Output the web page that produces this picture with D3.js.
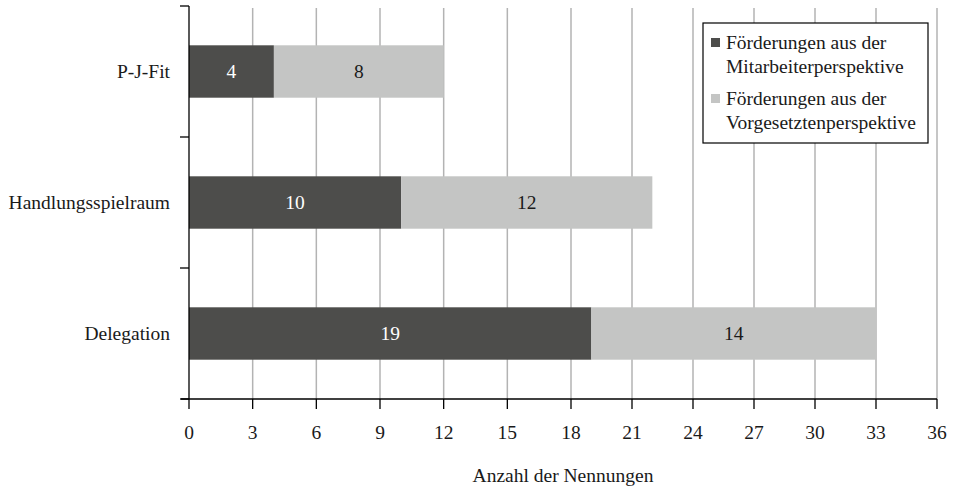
<!DOCTYPE html>
<html>
<head>
<meta charset="utf-8">
<script src="https://cdn.jsdelivr.net/npm/d3@7"></script>
<style>
  html, body { margin: 0; padding: 0; background: #fff; }
  svg { display: block; font-family: "Liberation Serif", "Times New Roman", serif; }
</style>
</head>
<body>
<svg id="chart" width="954" height="489"></svg>
<script>
// Kategorien (von oben nach unten)
const categories = ["P-J-Fit", "Handlungsspielraum", "Delegation"];
// Anzahl der Nennungen je Perspektive
const mitarbeiter = [4, 10, 19];
const vorgesetzte = [8, 12, 14];
const seriesNames = ["Förderungen aus der Mitarbeiterperspektive", "Förderungen aus der Vorgesetztenperspektive"];
const legendLines = [["Förderungen aus der", "Mitarbeiterperspektive"], ["Förderungen aus der", "Vorgesetztenperspektive"]];
const xTicks = [0, 3, 6, 9, 12, 15, 18, 21, 24, 27, 30, 33, 36];
const xTitle = "Anzahl der Nennungen";

const colors = ["#4d4d4b", "#c4c5c4"];
const labelColors = ["#ffffff", "#1a1a1a"];
const fontSize = 19.5;

const svg = d3.select("#chart");
const plotTop = 6, plotBottom = 399, plotLeft = 189;

// leicht gestauchte rechte Achsenhälfte
const x = d3.scaleLinear().domain([0, 18, 36]).range([plotLeft, 571, 937]);
const y = d3.scaleBand().domain(categories).range([plotTop, plotBottom]).paddingInner(0.6).paddingOuter(0.3);

// Gitterlinien
svg.append("g")
  .selectAll("line")
  .data(xTicks.filter(d => d > 0))
  .join("line")
  .attr("x1", d => x(d)).attr("x2", d => x(d))
  .attr("y1", plotTop + 2).attr("y2", plotBottom)
  .attr("stroke", "#b3b3b3").attr("stroke-width", 1.5);

// gestapelte Balken
const rows = categories.map((c, i) => ({ cat: c, vals: [mitarbeiter[i], vorgesetzte[i]] }));
const stacked = [];
rows.forEach(r => {
  let acc = 0;
  r.vals.forEach((v, s) => {
    stacked.push({ cat: r.cat, s, x0: acc, x1: acc + v, v });
    acc += v;
  });
});

svg.append("g")
  .selectAll("rect")
  .data(stacked)
  .join("rect")
  .attr("x", d => x(d.x0))
  .attr("width", d => x(d.x1) - x(d.x0))
  .attr("y", d => y(d.cat))
  .attr("height", y.bandwidth())
  .attr("fill", d => colors[d.s]);

svg.append("g")
  .selectAll("text")
  .data(stacked)
  .join("text")
  .attr("x", d => (x(d.x0) + x(d.x1)) / 2)
  .attr("y", d => y(d.cat) + y.bandwidth() / 2)
  .attr("dy", "0.35em")
  .attr("text-anchor", "middle")
  .attr("font-size", fontSize)
  .attr("fill", d => labelColors[d.s])
  .text(d => d.v);

// x-Achse
const xAxis = svg.append("g").attr("transform", `translate(0,${plotBottom})`);
xAxis.append("line").attr("x1", plotLeft - 8).attr("x2", x(36)).attr("y1", 0).attr("y2", 0)
  .attr("stroke", "#000").attr("stroke-width", 1.3);
xAxis.selectAll("line.t").data(xTicks).join("line").attr("class", "t")
  .attr("x1", d => x(d)).attr("x2", d => x(d)).attr("y1", 0).attr("y2", 10)
  .attr("stroke", "#000").attr("stroke-width", 1.3);
xAxis.selectAll("text").data(xTicks).join("text")
  .attr("x", d => x(d)).attr("y", 40)
  .attr("text-anchor", "middle").attr("font-size", fontSize).attr("fill", "#1a1a1a")
  .text(d => d);

// y-Achse
const yAxis = svg.append("g");
yAxis.append("line").attr("x1", plotLeft).attr("x2", plotLeft).attr("y1", plotTop).attr("y2", plotBottom)
  .attr("stroke", "#000").attr("stroke-width", 1.3);
const yTickPos = [0, 1, 2, 3].map(i => plotTop + i * y.step());
yAxis.selectAll("line.t").data(yTickPos).join("line").attr("class", "t")
  .attr("x1", plotLeft - 9).attr("x2", plotLeft).attr("y1", d => d).attr("y2", d => d)
  .attr("stroke", "#000").attr("stroke-width", 1.3);
yAxis.selectAll("text").data(categories).join("text")
  .attr("x", plotLeft - 19)
  .attr("y", d => y(d) + y.bandwidth() / 2)
  .attr("dy", "0.35em")
  .attr("text-anchor", "end").attr("font-size", fontSize).attr("fill", "#1a1a1a")
  .text(d => d);

// Achsentitel
svg.append("text")
  .attr("x", (x(0) + x(36)) / 2).attr("y", 482)
  .attr("text-anchor", "middle").attr("font-size", fontSize).attr("fill", "#1a1a1a")
  .text(xTitle);

// Legende
const lg = svg.append("g").attr("transform", "translate(703,23)");
lg.append("rect").attr("width", 225).attr("height", 120)
  .attr("fill", "#fff").attr("stroke", "#000").attr("stroke-width", 1.2);
legendLines.forEach((lines, i) => {
  const g = lg.append("g").attr("transform", `translate(0,${i * 56})`);
  g.append("rect").attr("x", 8).attr("y", 15).attr("width", 9).attr("height", 9).attr("fill", colors[i]);
  g.append("title").text(seriesNames[i]);
  lines.forEach((t, j) => {
    g.append("text").attr("x", 23).attr("y", 26 + j * 24)
      .attr("font-size", fontSize).attr("fill", "#1a1a1a").text(t);
  });
});
</script>
</body>
</html>
